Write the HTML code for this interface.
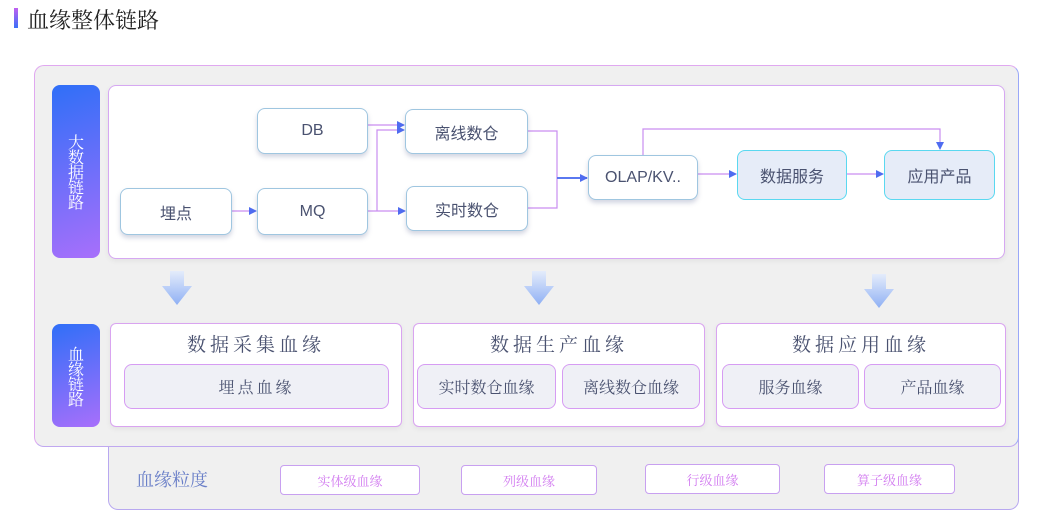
<!DOCTYPE html>
<html><head><meta charset="utf-8"><style>
*{margin:0;padding:0;box-sizing:border-box}
body{width:1041px;height:518px;background:#fff;position:relative;overflow:hidden;font-family:"Liberation Sans","Noto Sans CJK SC",sans-serif;color:#4a5270}
.a{position:absolute}
.n{position:absolute;background:#fff;border:1px solid #9fc6e0;border-radius:8px;display:flex;align-items:center;justify-content:center;font-size:16px;color:#4a5270;box-shadow:0 3px 5px rgba(80,90,140,.25)}
.s{background:#e6ecf8;border:1.5px solid #5ad8f0;box-shadow:none}
.lab{position:absolute;border-radius:8px;background:linear-gradient(160deg,#2f6ff8,#a86ffb);color:#fff;font-size:16px;display:flex;align-items:center;justify-content:center;writing-mode:vertical-rl;text-orientation:upright;letter-spacing:-1px;font-family:"Noto Serif CJK SC",serif}
.box{position:absolute;background:#fff;border:1px solid #d9a4f0;border-radius:6px;box-shadow:0 2px 6px rgba(0,0,0,.06)}
.bt{position:absolute;left:0;right:0;top:6px;text-align:center;font-size:19px;letter-spacing:4px;font-family:"Noto Serif CJK SC",serif;color:#4a5270}
.in{position:absolute;background:#eff0f6;border:1px solid #d69cf3;border-radius:8px;display:flex;align-items:center;justify-content:center;font-size:16px;font-family:"Noto Serif CJK SC",serif;color:#4a5270}
.chip{position:absolute;background:#fff;border:1px solid #c8a0f0;border-radius:4px;display:flex;align-items:center;justify-content:center;font-size:13px;color:#d27cf0;font-family:"Noto Serif CJK SC",serif}
</style></head><body>
<div class="a" style="left:14px;top:8px;width:4px;height:20px;background:linear-gradient(#c060f0,#3a6ff8)"></div>
<div class="a" style="left:27px;top:4px;font-size:22px;color:#222;font-family:'Noto Serif CJK SC',serif">血缘整体链路</div>

<div class="a" style="left:108px;top:430px;width:911px;height:80px;background:#f0f0f0;border:1px solid #b8a8f0;border-radius:10px"></div>
<div class="a" style="left:34px;top:65px;width:985px;height:382px;background:#f0f0f0;border:1px solid #e0a8f0;border-right-color:#9aa8f8;border-bottom-color:#c0a8f0;border-radius:10px"></div>

<div class="lab" style="left:52px;top:85px;width:48px;height:173px">大数据链路</div>
<div class="box" style="left:108px;top:85px;width:897px;height:174px;border-color:#d6a8f2;border-radius:8px"></div>

<svg class="a" style="left:0;top:0" width="1041" height="518">
<defs><marker id="ar" markerWidth="8" markerHeight="8" refX="7" refY="4" orient="auto" markerUnits="userSpaceOnUse"><path d="M0,0 L8,4 L0,8z" fill="#4f6cf0"/></marker></defs>
<g fill="none" stroke="#c98ef0" stroke-width="1.2">
<path d="M232,211 H256" marker-end="url(#ar)"/>
<path d="M368,125 H404" marker-end="url(#ar)"/>
<path d="M368,211 H405" marker-end="url(#ar)"/>
<path d="M377,211 V130 H404" marker-end="url(#ar)"/>
<path d="M528,131 H557 V208 H528"/>
<path d="M557,178 H587" stroke="#5a78f0" stroke-width="2" marker-end="url(#ar)"/>
<path d="M698,174 H736" marker-end="url(#ar)"/>
<path d="M847,174 H883" marker-end="url(#ar)"/>
<path d="M643,155 V129 H940 V149" marker-end="url(#ar)"/>
</g>
<defs><linearGradient id="dg" x1="0" y1="0" x2="0" y2="1"><stop offset="0" stop-color="#e4ecfb"/><stop offset="1" stop-color="#8fb0f4"/></linearGradient></defs>
<g fill="url(#dg)">
<path d="M170,271 h14 v15 h8 l-15,19 l-15,-19 h8z"/>
<path d="M532,271 h14 v15 h8 l-15,19 l-15,-19 h8z"/>
<path d="M872,274 h14 v15 h8 l-15,19 l-15,-19 h8z"/>
</g>
</svg>

<div class="n" style="left:120px;top:188px;width:112px;height:47px">埋点</div>
<div class="n" style="left:257px;top:108px;width:111px;height:46px">DB</div>
<div class="n" style="left:257px;top:188px;width:111px;height:47px">MQ</div>
<div class="n" style="left:405px;top:109px;width:123px;height:45px">离线数仓</div>
<div class="n" style="left:406px;top:186px;width:122px;height:45px">实时数仓</div>
<div class="n" style="left:588px;top:155px;width:110px;height:45px">OLAP/KV..</div>
<div class="n s" style="left:737px;top:150px;width:110px;height:50px">数据服务</div>
<div class="n s" style="left:884px;top:150px;width:111px;height:50px">应用产品</div>

<div class="lab" style="left:52px;top:324px;width:48px;height:103px">血缘链路</div>
<div class="box" style="left:110px;top:323px;width:292px;height:104px"><div class="bt">数据采集血缘</div></div>
<div class="box" style="left:413px;top:323px;width:292px;height:104px"><div class="bt">数据生产血缘</div></div>
<div class="box" style="left:716px;top:323px;width:290px;height:104px"><div class="bt">数据应用血缘</div></div>
<div class="in" style="left:124px;top:364px;width:265px;height:45px;letter-spacing:3px">埋点血缘</div>
<div class="in" style="left:417px;top:364px;width:139px;height:45px">实时数仓血缘</div>
<div class="in" style="left:562px;top:364px;width:138px;height:45px">离线数仓血缘</div>
<div class="in" style="left:722px;top:364px;width:137px;height:45px">服务血缘</div>
<div class="in" style="left:864px;top:364px;width:137px;height:45px">产品血缘</div>

<div class="a" style="left:136px;top:466px;font-size:18px;color:#6a7fc8;font-family:'Noto Serif CJK SC',serif">血缘粒度</div>
<div class="chip" style="left:280px;top:465px;width:140px;height:30px">实体级血缘</div>
<div class="chip" style="left:461px;top:465px;width:136px;height:30px">列级血缘</div>
<div class="chip" style="left:645px;top:464px;width:135px;height:30px">行级血缘</div>
<div class="chip" style="left:824px;top:464px;width:131px;height:30px">算子级血缘</div>
</body></html>
